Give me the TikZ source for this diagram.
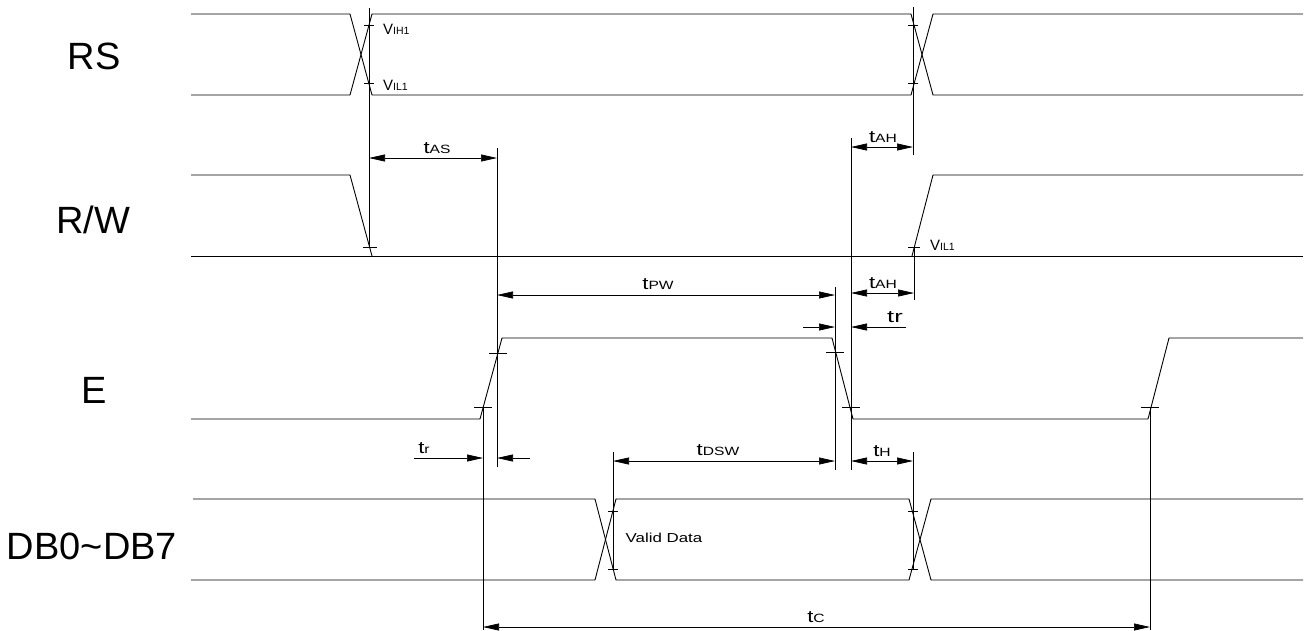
\documentclass[tikz,border=0pt]{standalone}
\usepackage{graphicx}
\usepackage{fontspec}
\setmainfont{Liberation Sans}
\usetikzlibrary{arrows.meta}
\newcommand{\tsub}[2]{\scalebox{1.3}[1]{{\fontsize{17}{17}\selectfont #1}{\fontsize{12}{12}\selectfont #2}}}
\newcommand{\vsub}[2]{{\fontsize{15}{15}\selectfont #1}{\fontsize{10.5}{10.5}\selectfont #2}}
\begin{document}
\begin{tikzpicture}[x=1pt,y=-1pt,
  sig/.style={line width=0.9pt},
  refline/.style={line width=0.7pt},
  dim/.style={line width=0.7pt,{Triangle[length=16pt,width=7pt]}-{Triangle[length=16pt,width=7pt]}},
  dimin/.style={line width=0.7pt,-{Triangle[length=16pt,width=7pt]}},
  signame/.style={font=\fontsize{38}{38}\selectfont},
  tlbl/.style={above,inner sep=1pt}]
\useasboundingbox (0,0) rectangle (1306,630);
% signal names
\node [signame] (rs) at (94,56) {RS};
\node [signame] (rw) at (93,220) {R/W};
\node [signame] (e) at (94,390) {E};
\node [signame] (db) at (92,546) {DB0\textasciitilde DB7};
% RS
\draw [sig] (191,14) -- (350,14) -- (372,95) -- (911,95) -- (933,14) -- (1303,14);
\draw [sig] (191,95) -- (350,95) -- (372,14) -- (911,14) -- (933,95) -- (1303,95);
% R/W
\draw [sig] (191,175) -- (350,175) -- (372,256);
\draw [sig] (191,256) -- (1303,256);
\draw [sig] (912,256) -- (933,175) -- (1303,175);
% E
\draw [sig] (191,419) -- (480,419) -- (502,338) -- (832,338) -- (853,419) -- (1148,419) -- (1169,338) -- (1303,338);
% DB0~DB7
\draw [sig] (193,499) -- (595,499) -- (616,580) -- (909,580) -- (931,499) -- (1303,499);
\draw [sig] (191,580) -- (595,580) -- (616,499) -- (909,499) -- (931,580) -- (1303,580);
% ticks
\foreach \x/\y/\w in {369/25/5,369/83/5,913/25/5,913/83/5,370/247/7,914/247/6,
  483/407/9,498/353/9,835/352/9,851/407/9,1150/407/9,
  613/511/5,613/569/5,913/511/5,913/569/5}
  \draw [refline] (\x-\w,\y) -- (\x+\w,\y);
% reference lines
\draw [refline] (369,8) -- (369,247);
\draw [refline] (497,148) -- (497,467);
\draw [refline] (913,7) -- (913,155);
\draw [refline] (914,247) -- (914,300);
\draw [refline] (851,138) -- (851,470);
\draw [refline] (835,287) -- (835,470);
\draw [refline] (483,407) -- (483,630);
\draw [refline] (613,452) -- (613,569);
\draw [refline] (913,452) -- (913,569);
\draw [refline] (1150,407) -- (1150,630);
% timing arrows
\draw [dim] (369,158) -- (497,158);
\draw [dim] (851,147) -- (913,147);
\draw [dim] (851,293) -- (914,293);
\draw [dim] (497,295) -- (835,295);
\draw [dimin] (803,327) -- (835,327);
\draw [dimin] (906,327) -- (851,327);
\draw [dimin] (414,458) -- (483,458);
\draw [dimin] (530,458) -- (497,458);
\draw [dim] (613,461) -- (835,461);
\draw [dim] (851,461) -- (913,461);
\draw [dim] (483,627) -- (1150,627);
% labels
\node [right,inner sep=0] (vih) at (383,29) {\vsub{V}{IH1}};
\node [right,inner sep=0] (vil) at (383,85) {\vsub{V}{IL1}};
\node [right,inner sep=0] (vilrw) at (930,245) {\vsub{V}{IL1}};
\node [tlbl] (tas) at (437,155) {\tsub{t}{AS}};
\node [tlbl] (tah) at (883,144) {\tsub{t}{AH}};
\node [tlbl] (tahb) at (883,290) {\tsub{t}{AH}};
\node [tlbl] (tpw) at (658,291) {\tsub{t}{PW}};
\node [tlbl] (trb) at (895,324) {\scalebox{1.5}[1]{\fontsize{17}{17}\selectfont tr}};
\node [tlbl] (tra) at (424,455) {\tsub{t}{r}};
\node [tlbl] (tdsw) at (718,457) {\tsub{t}{DSW}};
\node [tlbl] (th) at (882,458) {\tsub{t}{H}};
\node [tlbl] (tc) at (816,624) {\tsub{t}{C}};
\node [font=\fontsize{13}{13}\selectfont] (valid) at (664,538) {\scalebox{1.3}[1]{Valid Data}};
\end{tikzpicture}
\end{document}
